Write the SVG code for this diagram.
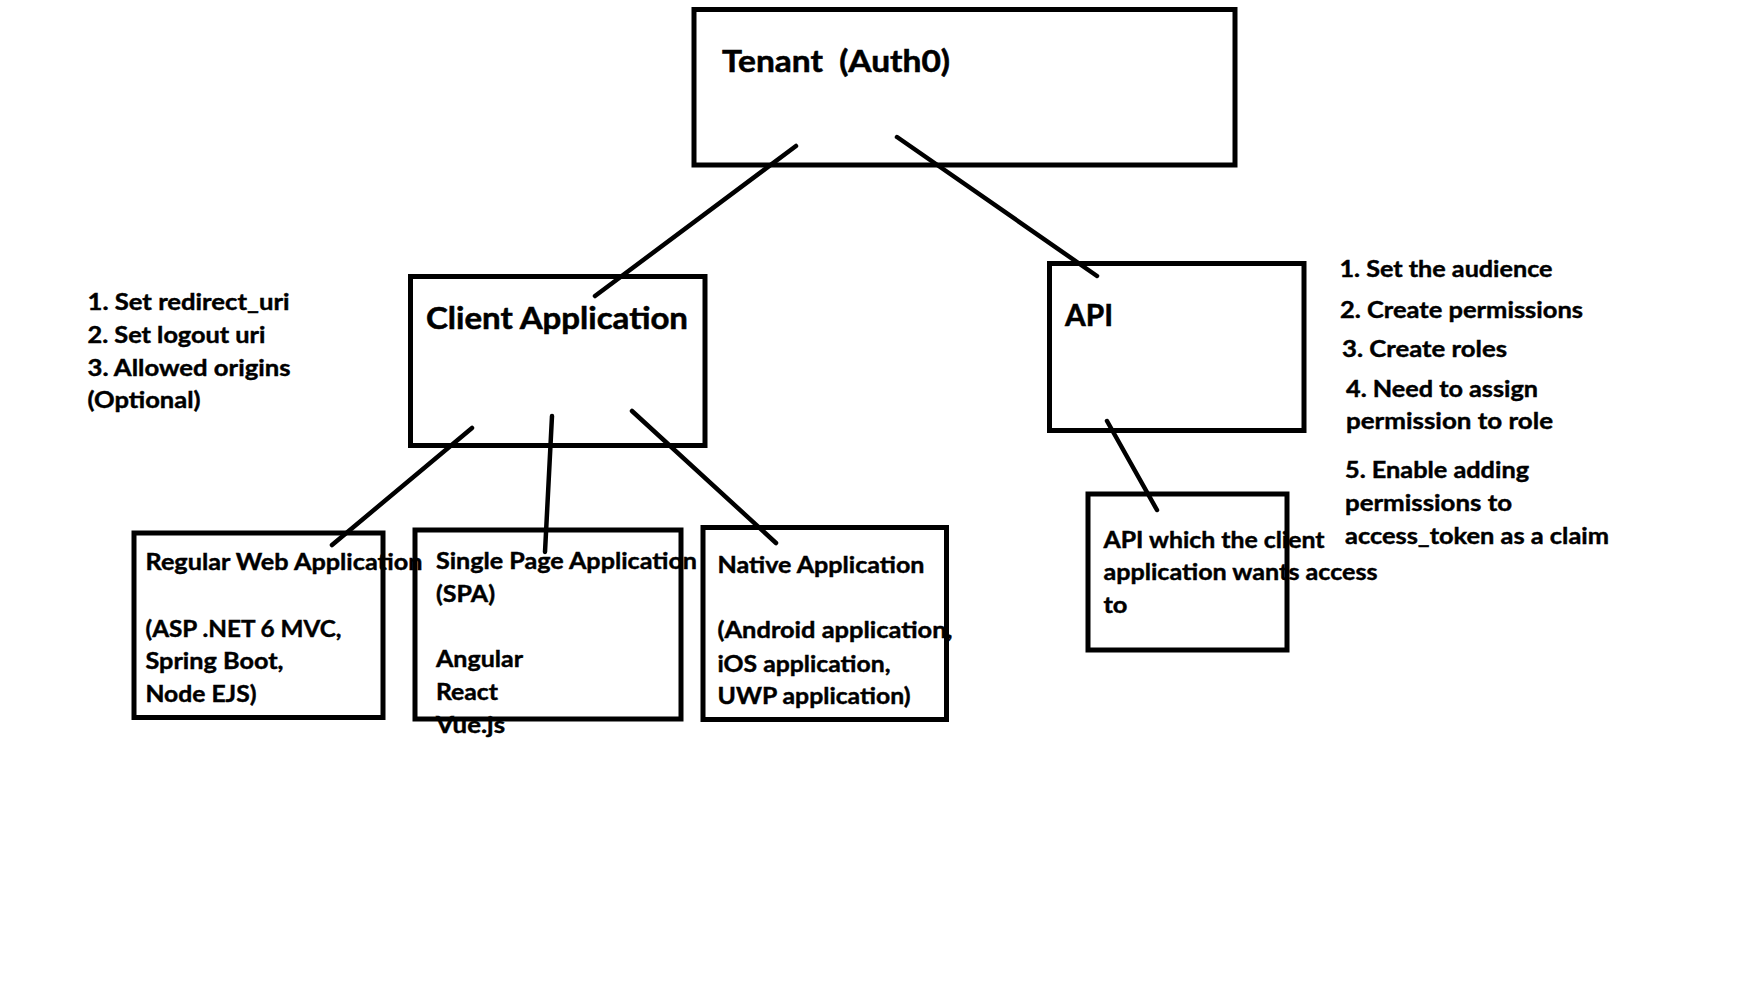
<svg xmlns="http://www.w3.org/2000/svg" width="1754" height="996" viewBox="0 0 1754 996">
  <style>
    .box { fill: none; stroke: #000; stroke-width: 5; }
    .edge { fill: none; stroke: #000; stroke-width: 4.5; stroke-linecap: round; }
    .t { font-family: Lato, "Liberation Sans", sans-serif; font-weight: 700; font-size: 23.5px; fill: #000; stroke: #000; stroke-width: 0.45px; }
    .big { font-size: 31px; stroke-width: 0.55px; }
  </style>
  <rect x="0" y="0" width="1754" height="996" fill="#fff"/>

  <g id="tenant">
    <rect class="box" x="694" y="9.5" width="541" height="155.5"/>
    <text class="t big" x="722" y="71.5" textLength="228" lengthAdjust="spacingAndGlyphs" xml:space="preserve">Tenant  (Auth0)</text>
  </g>

  <g id="client-application">
    <rect class="box" x="410.5" y="276.5" width="294.5" height="169"/>
    <text class="t big" x="426" y="329" textLength="262" lengthAdjust="spacingAndGlyphs">Client Application</text>
  </g>

  <g id="api">
    <rect class="box" x="1049.5" y="263.5" width="254.5" height="167"/>
    <text class="t big" x="1065" y="325.5" textLength="48" lengthAdjust="spacingAndGlyphs">API</text>
  </g>

  <g id="regular-web-application">
    <rect class="box" x="134" y="533" width="249" height="184.5"/>
    <text class="t" x="145.5" y="570" textLength="277" lengthAdjust="spacingAndGlyphs">Regular Web Application</text>
    <text class="t" x="145.5" y="636.5" textLength="196" lengthAdjust="spacingAndGlyphs">(ASP .NET 6 MVC,</text>
    <text class="t" x="145.5" y="669" textLength="138" lengthAdjust="spacingAndGlyphs">Spring Boot,</text>
    <text class="t" x="145.5" y="701.5" textLength="111" lengthAdjust="spacingAndGlyphs">Node EJS)</text>
  </g>

  <g id="single-page-application">
    <rect class="box" x="415" y="530" width="266" height="189"/>
    <text class="t" x="436" y="569" textLength="261" lengthAdjust="spacingAndGlyphs">Single Page Application</text>
    <text class="t" x="436" y="601.5" textLength="59" lengthAdjust="spacingAndGlyphs">(SPA)</text>
    <text class="t" x="436" y="667" textLength="87" lengthAdjust="spacingAndGlyphs">Angular</text>
    <text class="t" x="436" y="700" textLength="62" lengthAdjust="spacingAndGlyphs">React</text>
    <text class="t" x="436" y="733" textLength="69" lengthAdjust="spacingAndGlyphs">Vue.js</text>
  </g>

  <g id="native-application">
    <rect class="box" x="703" y="527.5" width="243.5" height="192"/>
    <text class="t" x="717.5" y="573" textLength="207" lengthAdjust="spacingAndGlyphs">Native Application</text>
    <text class="t" x="717.5" y="638" textLength="235" lengthAdjust="spacingAndGlyphs">(Android application,</text>
    <text class="t" x="717.5" y="671.5" textLength="173" lengthAdjust="spacingAndGlyphs">iOS application,</text>
    <text class="t" x="717.5" y="704" textLength="193" lengthAdjust="spacingAndGlyphs">UWP application)</text>
  </g>

  <g id="target-api">
    <rect class="box" x="1088" y="494" width="199" height="156"/>
    <text class="t" x="1103.5" y="547.5" textLength="221" lengthAdjust="spacingAndGlyphs">API which the client</text>
    <text class="t" x="1103.5" y="580" textLength="274" lengthAdjust="spacingAndGlyphs">application wants access</text>
    <text class="t" x="1103.5" y="613" textLength="24" lengthAdjust="spacingAndGlyphs">to</text>
  </g>

  <g id="client-notes">
    <text class="t" x="87.5" y="310" textLength="202" lengthAdjust="spacingAndGlyphs">1. Set redirect_uri</text>
    <text class="t" x="87.5" y="342.5" textLength="178" lengthAdjust="spacingAndGlyphs">2. Set logout uri</text>
    <text class="t" x="87.5" y="375.5" textLength="203" lengthAdjust="spacingAndGlyphs">3. Allowed origins</text>
    <text class="t" x="87.5" y="408" textLength="113" lengthAdjust="spacingAndGlyphs">(Optional)</text>
  </g>

  <g id="api-notes">
    <text class="t" x="1339.5" y="276.5" textLength="213" lengthAdjust="spacingAndGlyphs">1. Set the audience</text>
    <text class="t" x="1340" y="318" textLength="243" lengthAdjust="spacingAndGlyphs">2. Create permissions</text>
    <text class="t" x="1342" y="356.5" textLength="165" lengthAdjust="spacingAndGlyphs">3. Create roles</text>
    <text class="t" x="1346" y="396.5" textLength="192" lengthAdjust="spacingAndGlyphs">4. Need to assign</text>
    <text class="t" x="1346" y="429" textLength="207" lengthAdjust="spacingAndGlyphs">permission to role</text>
    <text class="t" x="1345" y="478" textLength="184" lengthAdjust="spacingAndGlyphs">5. Enable adding</text>
    <text class="t" x="1345" y="511" textLength="167" lengthAdjust="spacingAndGlyphs">permissions to</text>
    <text class="t" x="1345" y="544" textLength="264" lengthAdjust="spacingAndGlyphs">access_token as a claim</text>
  </g>

  <g id="connectors">
    <line class="edge" x1="796" y1="146" x2="595" y2="296"/>
    <line class="edge" x1="897" y1="137" x2="1097" y2="276"/>
    <line class="edge" x1="472" y1="428" x2="332" y2="545"/>
    <line class="edge" x1="552" y1="416" x2="545" y2="552"/>
    <line class="edge" x1="632" y1="411" x2="776" y2="543"/>
    <line class="edge" x1="1107" y1="421" x2="1157" y2="510"/>
  </g>
</svg>
